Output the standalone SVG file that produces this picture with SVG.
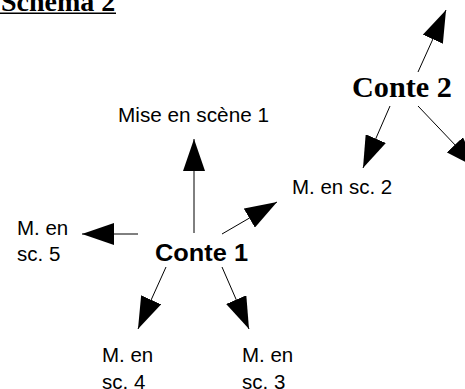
<svg xmlns="http://www.w3.org/2000/svg" width="465" height="389" viewBox="0 0 465 389">
<style>
.lbl{font-family:"Liberation Sans",Arial,sans-serif;font-size:20.5px;fill:#000}
.c1{font-family:"Liberation Sans",Arial,sans-serif;font-size:23.5px;font-weight:bold;fill:#000}
.c2{font-family:"Liberation Serif","Times New Roman",serif;font-size:29px;font-weight:bold;fill:#000}
.title{font-family:"Liberation Serif","Times New Roman",serif;font-size:28px;font-weight:bold;fill:#000}
.conn line{stroke:#000;stroke-width:1;marker-end:url(#ah)}
</style>
<defs>
<marker id="ah" markerUnits="userSpaceOnUse" viewBox="0 0 32 22" markerWidth="32" markerHeight="22" refX="32" refY="11" orient="auto">
<path d="M0,0 L32,11 L0,22 z" fill="#000"/>
</marker>
</defs>
<g id="title">
<text class="title" x="1" y="11">Schéma 2</text>
<rect x="0" y="12.5" width="116" height="1.5" fill="#000"/>
</g>
<g id="conte1"><text class="c1" x="155" y="261" textLength="93" lengthAdjust="spacingAndGlyphs">Conte 1</text></g>
<g id="conte2"><text class="c2" x="352" y="97" textLength="100" lengthAdjust="spacingAndGlyphs">Conte 2</text></g>
<g id="ms1"><text class="lbl" x="118" y="122" textLength="151" lengthAdjust="spacingAndGlyphs">Mise en scène 1</text></g>
<g id="ms2"><text class="lbl" x="292" y="194">M. en sc. 2</text></g>
<g id="ms3"><text class="lbl" x="242" y="362">M. en</text><text class="lbl" x="242" y="389">sc. 3</text></g>
<g id="ms4"><text class="lbl" x="102" y="362">M. en</text><text class="lbl" x="102" y="389">sc. 4</text></g>
<g id="ms5"><text class="lbl" x="17" y="235">M. en</text><text class="lbl" x="17" y="261">sc. 5</text></g>
<g id="connectors" class="conn">
<line x1="194" y1="233" x2="194" y2="139"/>
<line x1="222" y1="234" x2="277" y2="202"/>
<line x1="138" y1="234" x2="82" y2="234"/>
<line x1="166" y1="267" x2="138" y2="329"/>
<line x1="222" y1="267" x2="249" y2="329"/>
<line x1="418" y1="72" x2="446" y2="10"/>
<line x1="390" y1="106" x2="363" y2="168"/>
<line x1="418" y1="106" x2="477" y2="168"/>
</g>
</svg>
